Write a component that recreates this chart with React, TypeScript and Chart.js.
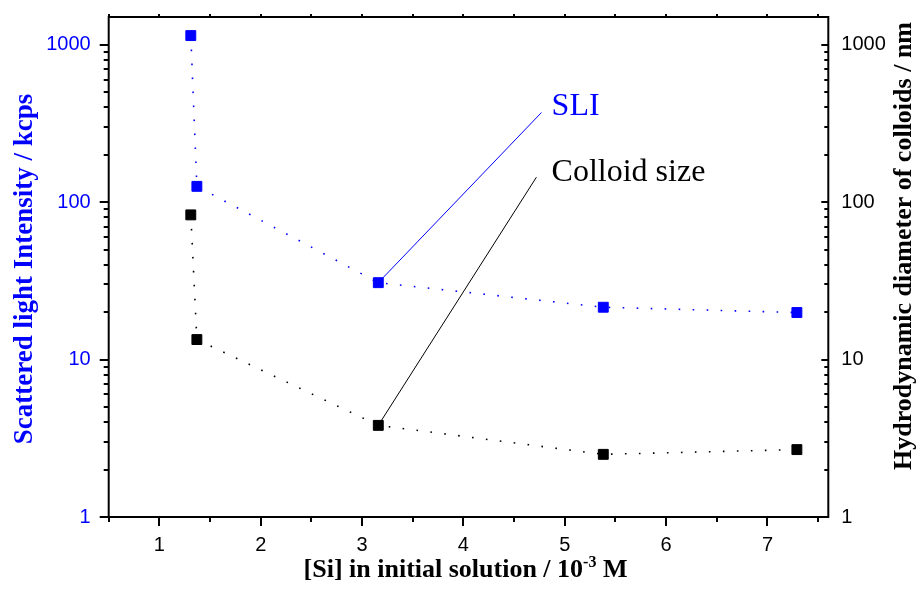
import React, { useEffect, useRef } from "react";
import { Chart, registerables } from "chart.js";

Chart.register(...registerables);

// [Si] in the initial solution (10^-3 M)
const siConc = [1.31, 1.37, 3.16, 5.38, 7.29];
// scattered light intensity (kcps), left axis
const sliKcps = [1143, 126, 30.8, 21.5, 19.9];
// hydrodynamic diameter of colloids (nm), right axis
const colloidNm = [83, 13.4, 3.82, 2.5, 2.68];

const xTicks = [1, 2, 3, 4, 5, 6, 7];
const yTicks = [1, 10, 100, 1000];
const X_MIN = 0.5;
const X_MAX = 7.6;
const Y_MIN = 1;
const Y_MAX = 1500;

// callout labels and the ends of their leader lines (data space)
const sliLabel = { text: "SLI", x: 4.87, y: 359 };
const sliLeaderEnd = { x: 4.77, y: 371 };
const colloidLabel = { text: "Colloid size", x: 4.87, y: 137 };
const colloidLeaderEnd = { x: 4.72, y: 144 };

const BLUE = "#0000ff";
const BLACK = "#000000";
const SANS = '"Liberation Sans", Arial, sans-serif';
const SERIF = '"Liberation Serif", "Times New Roman", serif';

const axisDecor = {
  id: "axisDecor",
  afterDraw(chart: any) {
    const { ctx, chartArea: a, scales } = chart;
    const xs = scales.x;
    const ys = scales.y;
    ctx.save();
    ctx.strokeStyle = BLACK;
    ctx.lineWidth = 2;
    const seg = (x1: number, y1: number, x2: number, y2: number) => {
      ctx.beginPath();
      ctx.moveTo(x1, y1);
      ctx.lineTo(x2, y2);
      ctx.stroke();
    };
    // frame
    ctx.strokeRect(a.left, a.top, a.right - a.left, a.bottom - a.top);

    // x ticks: majors at integers, minors at halves
    for (let k = 1; k * 0.5 <= X_MAX + 1e-9; k++) {
      const v = k * 0.5;
      const px = Math.round(xs.getPixelForValue(v));
      const major = k % 2 === 0;
      seg(px, a.bottom, px, a.bottom + (major ? 9 : 5));
      seg(px, a.top, px, a.top - 3);
    }

    // log y ticks, outward on the left, inward on the right
    for (let d = 1; d <= Y_MAX; d *= 10) {
      for (let m = 1; m <= 9; m++) {
        const v = d * m;
        if (v > Y_MAX) break;
        const py = Math.round(ys.getPixelForValue(v));
        const major = m === 1;
        seg(a.left - (major ? 9 : 5), py, a.left, py);
        seg(a.right - (major ? 7 : 4), py, a.right, py);
      }
    }

    // axis titles
    ctx.textBaseline = "alphabetic";
    ctx.textAlign = "center";
    const midY = (a.top + a.bottom) / 2;

    ctx.font = `bold 27px ${SERIF}`;
    ctx.fillStyle = BLUE;
    ctx.save();
    ctx.translate(32, midY + 2);
    ctx.rotate(-Math.PI / 2);
    ctx.fillText("Scattered light Intensity / kcps", 0, 0);
    ctx.restore();

    ctx.font = `bold 26px ${SERIF}`;
    ctx.fillStyle = BLACK;
    ctx.save();
    ctx.translate(911, 246);
    ctx.rotate(-Math.PI / 2);
    ctx.fillText("Hydrodynamic diameter of colloids / nm", 0, 0);
    ctx.restore();

    // x title with superscript exponent
    const partA = "[Si] in initial solution / 10";
    const partSup = "-3";
    const partB = " M";
    ctx.textAlign = "left";
    ctx.font = `bold 26px ${SERIF}`;
    const wA = ctx.measureText(partA).width;
    const wB = ctx.measureText(partB).width;
    ctx.font = `bold 16px ${SERIF}`;
    const wS = ctx.measureText(partSup).width;
    const total = wA + wS + wB;
    const cx = (a.left + a.right) / 2 - 3;
    let tx = cx - total / 2;
    const base = 577;
    ctx.font = `bold 26px ${SERIF}`;
    ctx.fillText(partA, tx, base);
    tx += wA;
    ctx.font = `bold 16px ${SERIF}`;
    ctx.fillText(partSup, tx, base - 10);
    tx += wS;
    ctx.font = `bold 26px ${SERIF}`;
    ctx.fillText(partB, tx, base);

    ctx.restore();
  },
  afterDatasetsDraw(chart: any) {
    const { ctx, scales } = chart;
    ctx.save();
    ctx.font = `32px ${SERIF}`;
    ctx.textAlign = "left";
    ctx.textBaseline = "alphabetic";
    ctx.fillStyle = BLUE;
    ctx.fillText(sliLabel.text, scales.x.getPixelForValue(sliLabel.x), scales.y.getPixelForValue(sliLabel.y));
    ctx.fillStyle = BLACK;
    ctx.fillText(
      colloidLabel.text,
      scales.x.getPixelForValue(colloidLabel.x),
      scales.y1.getPixelForValue(colloidLabel.y)
    );
    ctx.restore();
  },
};

const logTicks = (scale: any) => {
  scale.ticks = yTicks.map((v) => ({ value: v, major: true }));
};

const noPad = (s: any) => {
  s.paddingTop = 0;
  s.paddingBottom = 0;
  s.paddingLeft = 0;
  s.paddingRight = 0;
};

export default function App() {
  const canvasRef = useRef<HTMLCanvasElement | null>(null);

  useEffect(() => {
    const canvas = canvasRef.current;
    if (!canvas) return;

    const seriesStyle = (color: string) => ({
      borderColor: color,
      backgroundColor: color,
      borderWidth: 1.6,
      borderDash: [1.6, 12.4],
      borderCapStyle: "butt" as const,
      pointStyle: "rect" as const,
      pointRadius: 7,
      pointHoverRadius: 7,
      pointBackgroundColor: color,
      pointBorderColor: color,
      pointBorderWidth: 1,
      tension: 0,
      clip: false as const,
    });

    const chart = new Chart(canvas, {
      type: "line",
      data: {
        datasets: [
          {
            label: "SLI leader",
            data: [{ x: siConc[2], y: sliKcps[2] }, sliLeaderEnd],
            yAxisID: "y",
            borderColor: BLUE,
            borderWidth: 1,
            pointRadius: 0,
          },
          {
            label: "Colloid leader",
            data: [{ x: siConc[2], y: colloidNm[2] }, colloidLeaderEnd],
            yAxisID: "y1",
            borderColor: BLACK,
            borderWidth: 1,
            pointRadius: 0,
          },
          {
            label: "SLI",
            data: siConc.map((x, i) => ({ x, y: sliKcps[i] })),
            yAxisID: "y",
            ...seriesStyle(BLUE),
          },
          {
            label: "Colloid size",
            data: siConc.map((x, i) => ({ x, y: colloidNm[i] })),
            yAxisID: "y1",
            ...seriesStyle(BLACK),
          },
        ],
      },
      options: {
        responsive: false,
        animation: false,
        devicePixelRatio: 1,
        layout: { padding: { top: 17, left: 0, right: 0, bottom: 0 } },
        plugins: {
          legend: { display: false },
          tooltip: { enabled: false },
        },
        scales: {
          x: {
            type: "linear",
            min: X_MIN,
            max: X_MAX,
            afterBuildTicks: (s: any) => {
              s.ticks = xTicks.map((v) => ({ value: v }));
            },
            afterFit: (s: any) => {
              s.height = 80;
              noPad(s);
            },
            grid: { display: false, drawTicks: false },
            border: { display: false },
            ticks: {
              color: BLACK,
              padding: 16,
              maxRotation: 0,
              font: { family: SANS, size: 20 },
              callback: (v: any) => String(v),
            },
          },
          y: {
            type: "logarithmic",
            position: "left",
            min: Y_MIN,
            max: Y_MAX,
            afterBuildTicks: logTicks,
            afterFit: (s: any) => {
              s.width = 108.7;
              noPad(s);
            },
            grid: { display: false, drawTicks: false },
            border: { display: false },
            ticks: {
              color: BLUE,
              padding: 18,
              font: { family: SANS, size: 20 },
              callback: (v: any) => String(v),
            },
          },
          y1: {
            type: "logarithmic",
            position: "right",
            min: Y_MIN,
            max: Y_MAX,
            afterBuildTicks: logTicks,
            afterFit: (s: any) => {
              s.width = 93.7;
              noPad(s);
            },
            grid: { display: false, drawTicks: false },
            border: { display: false },
            ticks: {
              color: BLACK,
              padding: 13,
              font: { family: SANS, size: 20 },
              callback: (v: any) => String(v),
            },
          },
        },
      },
      plugins: [axisDecor],
    });

    return () => chart.destroy();
  }, []);

  return (
    <div style={{ position: "absolute", left: 0, top: 0, width: 922, height: 597, background: "#fff" }}>
      <canvas ref={canvasRef} width={922} height={597} />
    </div>
  );
}
